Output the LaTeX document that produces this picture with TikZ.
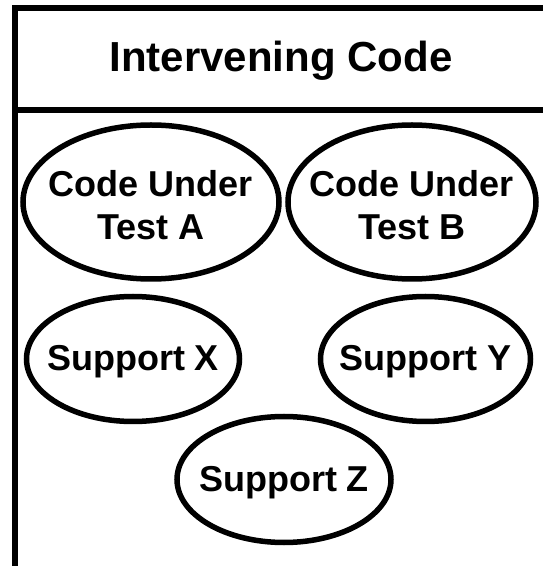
\documentclass[tikz,border=0pt]{standalone}
\usepackage{fontspec}
\setmainfont{Liberation Sans}
\usetikzlibrary{shapes.geometric}

\tikzset{
  frameline/.style={line width=6pt, line cap=rect},
  unit/.style={ellipse, draw, line width=5.5pt, inner sep=0pt},
  unittext/.style={inner sep=0pt, align=center, yshift=-3pt,
    font=\bfseries\fontsize{36}{43}\selectfont},
  heading/.style={inner sep=0pt, font=\bfseries\fontsize{42}{50}\selectfont}
}

\begin{document}
\begin{tikzpicture}[x=1pt, y=1pt]
  \useasboundingbox (0,0) rectangle (543,566);
  \clip (0,0) rectangle (543,566);

  % open frame with its header band
  \coordinate (fbl) at (14.5,-20);
  \coordinate (ftl) at (14.5,558);
  \coordinate (ftr) at (570,558);
  \coordinate (hl) at (14.5,456);
  \coordinate (hr) at (570,456);
  \draw[frameline] (fbl) -- (ftl) -- (ftr);
  \draw[frameline] (hl) -- (hr);

  \node[heading] (title) at (281,505) {Intervening Code};

  % components inside the frame: outlines
  \node[unit, minimum width=256pt, minimum height=154pt] (cuta) at (151,364) {};
  \node[unit, minimum width=248pt, minimum height=154pt] (cutb) at (412,364) {};
  \node[unit, minimum width=213pt, minimum height=125pt] (supx) at (133,207) {};
  \node[unit, minimum width=210pt, minimum height=125pt] (supy) at (425.5,207) {};
  \node[unit, minimum width=214pt, minimum height=126pt] (supz) at (284,86.5) {};

  % component names
  \node[unittext] (cutatext) at (cuta.center) {Code Under\\Test A};
  \node[unittext] (cutbtext) at (cutb.center) {Code Under\\Test B};
  \node[unittext] (supxtext) at (supx.center) {Support X};
  \node[unittext] (supytext) at (supy.center) {Support Y};
  \node[unittext] (supztext) at (supz.center) {Support Z};
\end{tikzpicture}
\end{document}
